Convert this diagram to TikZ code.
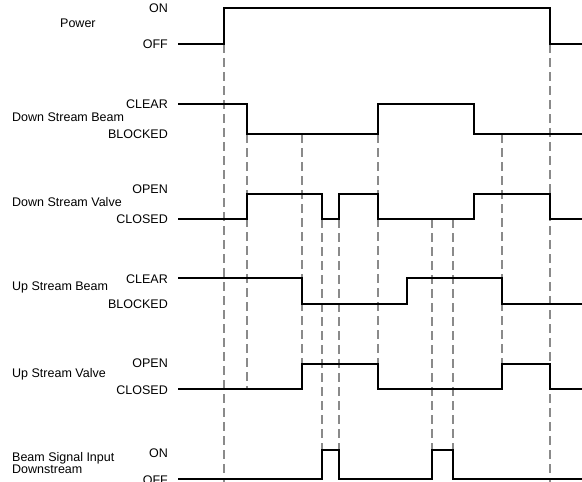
\documentclass[tikz,border=0pt]{standalone}
\usepackage{fontspec}
\setmainfont{Liberation Sans}
\usepackage{xcolor}
\usepackage{tikz}
\usetikzlibrary{positioning}
\definecolor{tdInk}{HTML}{000000}
\definecolor{tdGuide}{HTML}{8A8A8A}
\tikzset{
  % Signal waveform
  wave/.style={line width=1.6pt,draw=tdInk,line join=miter},
  % Dashed event guide
  guide/.style={line width=1.3pt,draw=tdGuide,dash pattern=on 9pt off 5pt},
  % Level label (ON / OFF, CLEAR / BLOCKED ...)
  lvl/.style={anchor=east,inner sep=0pt,font=\fontsize{12.5}{12.5}\selectfont,text=tdInk},
  % Signal name
  sname/.style={anchor=west,inner sep=0pt,align=left,
    font=\fontsize{12.5}{9}\selectfont,text=tdInk},
}
\begin{document}
\begin{tikzpicture}[x=1pt,y=-1pt]
  \useasboundingbox (0,0) rectangle (582,482);

  % event guides
  \foreach \gx/\gtop/\gbot in {224/44/482,247/134/389,302/134/364,
      322/219/450,339/219/450,378/134/389,432/219/450,453/219/450,
      502/134/364,550/44/482}
    \draw[guide] (\gx,\gtop) -- (\gx,\gbot);

  % Power
  \node[sname] (pwr) at (60,23) {Power};
  \node[lvl] (pwrOn) at (168,8) {ON};
  \node[lvl] (pwrOff) at (168,44) {OFF};
  \draw[wave] (178,44) -- (224,44) -- (224,8) -- (550,8) -- (550,44) -- (582,44);

  % Down Stream Beam
  \node[sname] (dsb) at (12,117) {Down Stream Beam};
  \node[lvl] (dsbClear) at (168,104) {CLEAR};
  \node[lvl] (dsbBlocked) at (168,134) {BLOCKED};
  \draw[wave] (178,104) -- (247,104) -- (247,134) -- (378,134) -- (378,104)
    -- (474,104) -- (474,134) -- (582,134);

  % Down Stream Valve
  \node[sname] (dsv) at (12,202) {Down Stream Valve};
  \node[lvl] (dsvOpen) at (168,189) {OPEN};
  \node[lvl] (dsvClosed) at (168,219) {CLOSED};
  \draw[wave] (178,219) -- (247,219) -- (247,194) -- (322,194) -- (322,219)
    -- (339,219) -- (339,194) -- (378,194) -- (378,219) -- (474,219)
    -- (474,194) -- (550,194) -- (550,219) -- (582,219);

  % Up Stream Beam
  \node[sname] (usb) at (12,287) {Up Stream Beam};
  \node[lvl] (usbClear) at (168,279) {CLEAR};
  \node[lvl] (usbBlocked) at (168,304) {BLOCKED};
  \draw[wave] (178,278) -- (302,278) -- (302,304) -- (407,304) -- (407,278)
    -- (502,278) -- (502,304) -- (582,304);

  % Up Stream Valve
  \node[sname] (usv) at (12,374) {Up Stream Valve};
  \node[lvl] (usvOpen) at (168,363) {OPEN};
  \node[lvl] (usvClosed) at (168,390) {CLOSED};
  \draw[wave] (178,389) -- (302,389) -- (302,364) -- (378,364) -- (378,389)
    -- (502,389) -- (502,364) -- (550,364) -- (550,389) -- (582,389);

  % Beam Signal Input Downstream
  \node[sname] (bsid) at (12,463) {Beam Signal Input\\Downstream};
  \node[lvl] (bsidOn) at (168,453) {ON};
  \node[lvl] (bsidOff) at (168,480) {OFF};
  \draw[wave] (178,479) -- (322,479) -- (322,450) -- (339,450) -- (339,479)
    -- (432,479) -- (432,450) -- (453,450) -- (453,479) -- (582,479);
\end{tikzpicture}
\end{document}
